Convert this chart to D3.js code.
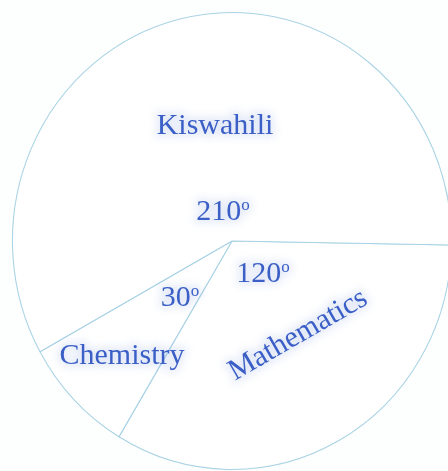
<!DOCTYPE html>
<html>
<head>
<meta charset="utf-8">
<script src="https://cdn.jsdelivr.net/npm/d3@7"></script>
<style>
  html, body { margin: 0; padding: 0; background: #fdfefe; }
  svg { display: block; }
</style>
</head>
<body>
<script>
// Subjects and the angle each one takes in the pie (degrees)
const subjects = ["Mathematics", "Chemistry", "Kiswahili"];
const degrees = [120, 30, 210];

const width = 448, height = 471;
const cx = 232, cy = 241;
const radius = 224;

const svg = d3.select("body").append("svg")
  .attr("width", width)
  .attr("height", height);

const defs = svg.append("defs");
const soft = defs.append("filter").attr("id", "soft")
  .attr("x", "-10%").attr("y", "-30%").attr("width", "120%").attr("height", "160%");
soft.append("feGaussianBlur").attr("in", "SourceGraphic").attr("stdDeviation", 0.45);

const halo = defs.append("filter").attr("id", "halo")
  .attr("x", "-20%").attr("y", "-50%").attr("width", "140%").attr("height", "200%");
halo.append("feGaussianBlur").attr("stdDeviation", 4);

const data = subjects.map((s, i) => ({ subject: s, deg: degrees[i] }));

// Mathematics starts just below the horizontal radius and sweeps clockwise
const start = (91 / 180) * Math.PI;
const pie = d3.pie()
  .sort(null)
  .value(d => d.deg)
  .startAngle(start)
  .endAngle(start + 2 * Math.PI);

const arc = d3.arc().innerRadius(0).outerRadius(radius);

const g = svg.append("g")
  .attr("transform", `translate(${cx},${cy}) scale(0.98,1.02)`);

g.selectAll("path.slice")
  .data(pie(data))
  .join("path")
  .attr("class", "slice")
  .attr("d", arc)
  .attr("fill", "#ffffff")
  .attr("stroke", "#a9d3e4")
  .attr("stroke-width", 1.1)
  .attr("stroke-linejoin", "round")
  .attr("filter", "url(#soft)");

// Text labels: subject names and their angles
const ink = "#3a5fc6";
const font = "'Liberation Serif', 'Times New Roman', serif";

const names = [
  { text: "Kiswahili", x: 215, y: 134, rot: 0 },
  { text: "Chemistry", x: 122, y: 364, rot: 0 },
  { text: "Mathematics", x: 302, y: 342, rot: -30 }
];

const angleLabels = [
  { value: degrees[2], x: 223, y: 220 },
  { value: degrees[0], x: 263, y: 282 },
  { value: degrees[1], x: 180, y: 306 }
];

const haloLayer = svg.append("g").attr("opacity", 0.18);
const textLayer = svg.append("g").attr("filter", "url(#soft)");

[haloLayer, textLayer].forEach((layer, li) => {
  layer.selectAll("text.name")
    .data(names)
    .join("text")
    .attr("class", "name")
    .attr("transform", d => `translate(${d.x},${d.y}) rotate(${d.rot})`)
    .attr("text-anchor", "middle")
    .attr("font-family", font)
    .attr("font-size", 30)
    .attr("fill", li === 0 ? "#6f8fd8" : ink)
    .attr("stroke", li === 0 ? "#6f8fd8" : "none")
    .attr("stroke-width", li === 0 ? 6 : 0)
    .attr("filter", li === 0 ? "url(#halo)" : null)
    .text(d => d.text);

  const al = layer.selectAll("text.deg")
    .data(angleLabels)
    .join("text")
    .attr("class", "deg")
    .attr("x", d => d.x)
    .attr("y", d => d.y)
    .attr("text-anchor", "middle")
    .attr("font-family", font)
    .attr("font-size", 30)
    .attr("fill", li === 0 ? "#6f8fd8" : ink)
    .attr("stroke", li === 0 ? "#6f8fd8" : "none")
    .attr("stroke-width", li === 0 ? 6 : 0)
    .attr("filter", li === 0 ? "url(#halo)" : null);
  al.append("tspan").text(d => d.value);
  al.append("tspan")
    .attr("font-size", 17)
    .attr("dy", -10)
    .text("o");
});
</script>
</body>
</html>
